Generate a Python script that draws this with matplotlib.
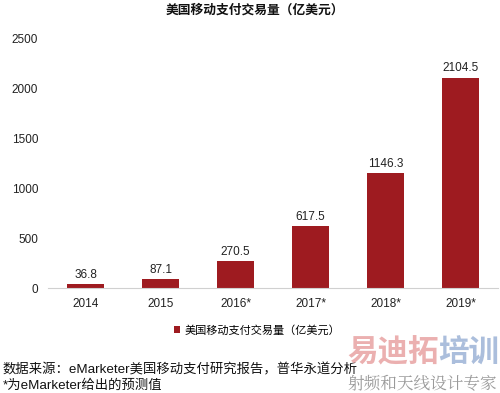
import matplotlib.pyplot as plt

plt.rcParams['font.family'] = ['Liberation Sans', 'Noto Sans CJK SC', 'DejaVu Sans']

# data
years = ['2014', '2015', '2016*', '2017*', '2018*', '2019*']
volume = [36.8, 87.1, 270.5, 617.5, 1146.3, 2104.5]
labels = ['36.8', '87.1', '270.5', '617.5', '1146.3', '2104.5']

bar_color = '#9E1B20'

fig = plt.figure(figsize=(5, 3.93), dpi=100)
ax = fig.add_axes([0.096, 0.267, 0.9, 0.636])

x = range(len(years))
bars = ax.bar(x, volume, width=0.5, color=bar_color, label='美国移动支付交易量（亿美元）')
for xi, v, lab in zip(x, volume, labels):
    ax.text(xi, v + 35, lab, ha='center', va='bottom', fontsize=8.5, color='#222222')

ax.set_xlim(-0.5, 5.5)
ax.set_ylim(0, 2500)
ax.set_yticks([0, 500, 1000, 1500, 2000, 2500])
ax.set_xticks(list(x))
ax.set_xticklabels(years)
ax.tick_params(axis='both', length=0, labelsize=8.5, colors='#222222')
ax.tick_params(axis='y', pad=7)
ax.tick_params(axis='x', pad=7)

for s in ['top', 'right', 'left']:
    ax.spines[s].set_visible(False)
ax.spines['bottom'].set_color('#d0d0d0')
ax.spines['bottom'].set_linewidth(0.8)

fig.text(0.51, 0.974, '美国移动支付交易量（亿美元）', ha='center', va='center',
         fontsize=9.2, fontweight='bold', color='#111111')

leg = fig.legend(handles=[bars], labels=['美国移动支付交易量（亿美元）'],
                 loc='center', bbox_to_anchor=(0.514, 0.16), frameon=False,
                 fontsize=8, handlelength=0.6, handleheight=0.6, handletextpad=0.4)

fig.text(0.006, 0.058, '数据来源：eMarketer美国移动支付研究报告，普华永道分析',
         fontsize=9.6, va='center', color='#111111')
fig.text(0.006, 0.018, '*为eMarketer给出的预测值', fontsize=9.6, va='center', color='#111111')

# watermark
fig.text(0.694, 0.1, '易迪拓', fontsize=22, fontweight='bold', color='#E8A3A3',
         va='center', alpha=0.85)
fig.text(0.876, 0.1, '培训', fontsize=22, fontweight='bold', color='#9DB3D6',
         va='center', alpha=0.85)
fig.text(0.694, 0.023, '射频和天线设计专家', fontsize=12, color='#9a9a9a', va='center',
         family=['Noto Serif CJK SC', 'Noto Sans CJK SC'])

fig.savefig('out.png', dpi=100)
